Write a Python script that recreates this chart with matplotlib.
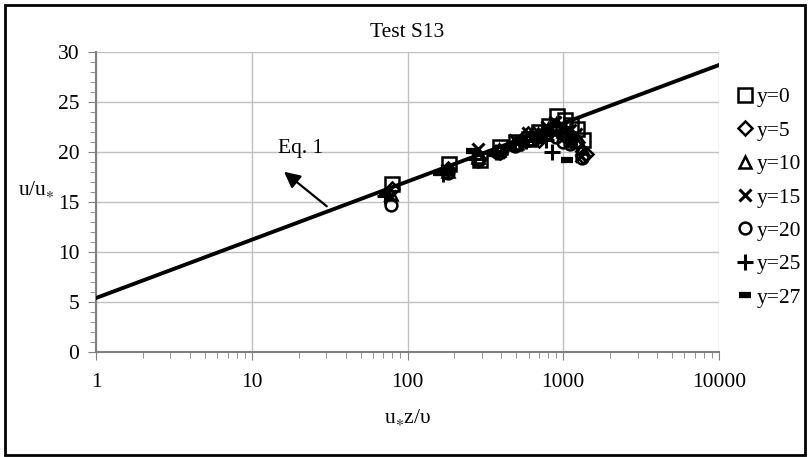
import numpy as np
import matplotlib
matplotlib.use("Agg")
import matplotlib.pyplot as plt
from matplotlib.ticker import MultipleLocator, LogLocator, FixedLocator
from matplotlib.patches import Rectangle

plt.rcParams["font.family"] = ["Liberation Serif", "DejaVu Serif"]
plt.rcParams["mathtext.fontset"] = "stix"

# Eq. 1: u/u* = slope * ln(z+) + intercept
eq_slope = 2.53
eq_intercept = 5.4

labels = ["y=0", "y=5", "y=10", "y=15", "y=20", "y=25", "y=27"]

x_y0 = [80, 185, 290, 395, 500, 600, 700, 810, 915, 1020, 1125, 1230, 1340]
u_y0 = [16.8, 18.8, 19.2, 20.5, 21.0, 21.3, 22.0, 22.6, 23.6, 23.2, 22.7, 22.3, 21.2]

x_y5 = [79, 183, 287, 391, 495, 595, 695, 800, 905, 1010, 1115, 1220, 1330, 1400]
u_y5 = [16.3, 18.3, 19.3, 20.0, 20.8, 21.8, 21.2, 22.0, 22.3, 21.7, 21.2, 21.0, 19.6, 19.8]

x_y10 = [78, 182, 285, 388, 490, 592, 692, 795, 898, 1000, 1105, 1210, 1320]
u_y10 = [15.8, 18.1, 19.5, 20.2, 20.8, 21.3, 21.8, 22.3, 22.8, 22.1, 21.7, 21.1, 20.4]

x_y15 = [77, 180, 283, 386, 488, 590, 690, 790, 890, 995, 1100, 1200, 1300]
u_y15 = [15.6, 18.2, 20.3, 20.0, 21.2, 21.9, 22.0, 22.5, 23.0, 22.6, 22.2, 21.8, 19.6]

x_y20 = [78, 181, 284, 387, 489, 591, 691, 792, 893, 997, 1102, 1205, 1310]
u_y20 = [14.7, 17.9, 19.1, 19.9, 20.6, 21.2, 21.5, 21.8, 21.5, 21.0, 20.8, 21.1, 19.4]

x_y25 = [72, 170, 270, 372, 475, 575, 675, 780, 850, 960, 1060]
u_y25 = [15.6, 17.8, 19.3, 20.0, 20.8, 21.1, 21.4, 21.2, 20.0, 21.9, 21.2]

x_y27 = [72, 160, 260, 360, 460, 560, 660, 760, 860, 1050]
u_y27 = [15.8, 17.9, 20.1, 19.8, 20.6, 21.0, 21.3, 21.8, 21.9, 19.2]

series_x = [x_y0, x_y5, x_y10, x_y15, x_y20, x_y25, x_y27]
series_u = [u_y0, u_y5, u_y10, u_y15, u_y20, u_y25, u_y27]
markers = ["s", "D", "^", "x", "o", "+", "_"]
sizes = [10, 7, 8.5, 8.5, 8.5, 11, 8]
mews = [1.8, 1.8, 1.8, 2.2, 1.8, 2.2, 4.5]

fs = 15.5

fig = plt.figure(figsize=(8.1, 4.57), dpi=100)
ax = fig.add_axes([0.1185, 0.2297, 0.7692, 0.6565])

# outer frame
fig.patches.append(Rectangle((0.006, 0.004), 0.988, 0.986, transform=fig.transFigure,
                             fill=False, edgecolor="black", linewidth=2))

xs = np.logspace(0, 4, 50)
ax.plot(xs, eq_slope * np.log(xs) + eq_intercept, color="black", lw=2.8, zorder=3)

for xv, uv, lab, m, s, mw in zip(series_x, series_u, labels, markers, sizes, mews):
    ax.plot(xv, uv, linestyle="none", marker=m, markersize=s, markerfacecolor="none",
            markeredgecolor="black", markeredgewidth=mw, color="black", label=lab, zorder=4)

ax.set_xscale("log")
ax.set_xlim(1, 10000)
ax.set_ylim(0, 30)
ax.xaxis.set_major_locator(FixedLocator([1, 10, 100, 1000, 10000]))
ax.xaxis.set_minor_locator(LogLocator(base=10, subs=np.arange(2, 10)))
ax.xaxis.set_minor_formatter(plt.NullFormatter())
ax.set_xticklabels(["1", "10", "100", "1000", "10000"])
ax.yaxis.set_major_locator(MultipleLocator(5))
ax.yaxis.set_minor_locator(MultipleLocator(1))

ax.grid(True, which="major", color="#c0c0c0", lw=1.0)
ax.set_axisbelow(True)
for sp in ["top", "right"]:
    ax.spines[sp].set_visible(False)
for sp in ["left", "bottom"]:
    ax.spines[sp].set_color("#808080")
    ax.spines[sp].set_linewidth(1.5)

ax.tick_params(which="major", direction="out", length=6, color="#808080", labelsize=fs, pad=9)
ax.tick_params(which="minor", direction="out", length=4, color="#808080")
ax.tick_params(axis="y", which="major", pad=6)

ax.set_title("Test S13", fontsize=fs, pad=11)
ax.set_xlabel("u$_{\\ast}$z/\u03c5", fontsize=fs, labelpad=12)
ax.set_ylabel("u/u$_{\\ast}$", fontsize=fs, rotation=0, ha="center", va="center")
ax.yaxis.set_label_coords(-0.095, 0.54)

ax.annotate("", xy=(15.6, 18.2), xytext=(31.3, 14.4),
            arrowprops=dict(arrowstyle="-|>", color="black", lw=1.6, mutation_scale=24), zorder=5)
ax.text(14.7, 20.4, "Eq. 1", fontsize=fs, ha="left", va="center")

fig.legend(loc="upper left", bbox_to_anchor=(0.900, 0.828), frameon=False, fontsize=fs,
           handlelength=0.7, handletextpad=0.2, labelspacing=0.62, borderaxespad=0)

fig.savefig("out.png", dpi=100)
